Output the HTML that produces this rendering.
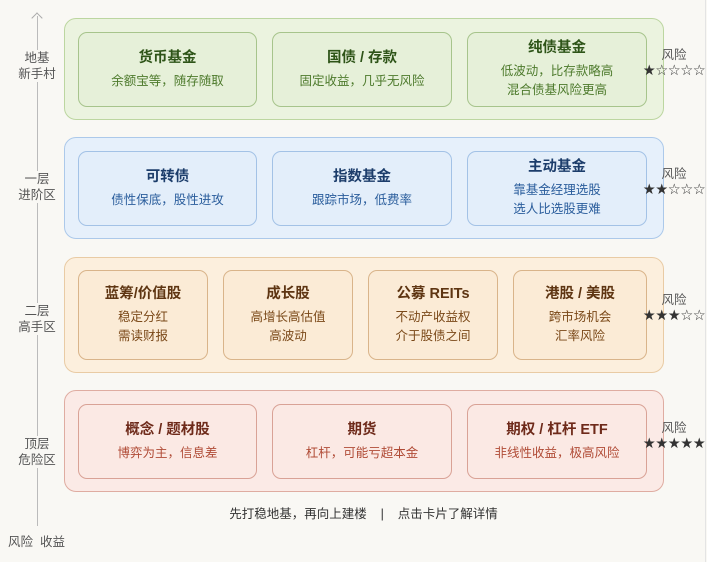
<!DOCTYPE html>
<html><head><meta charset="utf-8"><style>
*{margin:0;padding:0;box-sizing:border-box}
body{width:707px;height:562px;background:#f9f8f4;position:relative;overflow:hidden;font-family:"Liberation Sans","Noto Sans CJK SC",sans-serif}
.a{position:absolute}
.band{position:absolute;left:64px;width:600px;border:1px solid;border-radius:12px}
.card{position:absolute;border:1px solid;border-radius:9px;display:flex;flex-direction:column;align-items:center;justify-content:center;text-align:center}
.t{font-size:14.5px;font-weight:bold;line-height:18px;margin-bottom:5px}
.s{font-size:12.5px;line-height:19px}
.g .card{background:#e6f0d9;border-color:#a7c48c}.g .t{color:#2e5418}.g .s{color:#4d7a2c}
.b .card{background:#e3eefa;border-color:#a3c2e6}.b .t{color:#1c3d6b}.b .s{color:#2a5d9c}
.o .card{background:#fbebd6;border-color:#d9b48a}.o .t{color:#5e3512}.o .s{color:#7a4818}
.r .card{background:#fbe9e4;border-color:#d9a296}.r .t{color:#6e2a1a}.r .s{color:#b04b36}
.lab{position:absolute;left:14px;width:46px;text-align:center;font-size:12.5px;line-height:16px;color:#555;background:#f9f8f4}
.risk{position:absolute;left:637px;width:74px;text-align:center;font-size:12.5px;color:#555;line-height:16px}
.risk div{font-family:"DejaVu Sans",sans-serif;font-size:14.5px;line-height:16px;letter-spacing:-0.5px;color:#333;margin-top:0}
</style></head><body>
<div class="a" style="left:37px;top:16px;width:1px;height:510px;background:#bbb"></div>
<div class="a" style="left:33px;top:14px;width:8px;height:8px;border-left:1px solid #aaa;border-top:1px solid #aaa;transform:rotate(45deg)"></div>
<div class="a" style="left:705px;top:0;width:1px;height:562px;background:#e4e4e4"></div>
<div class="lab" style="top:50px">地基<br>新手村</div>
<div class="lab" style="top:171px">一层<br>进阶区</div>
<div class="lab" style="top:303px">二层<br>高手区</div>
<div class="lab" style="top:436px">顶层<br>危险区</div>
<div class="a" style="left:8px;top:531px;font-size:12.5px;color:#555">风险&nbsp;&nbsp;收益</div>

<div class="g"><div class="band" style="top:18px;height:102px;background:#ebf3df;border-color:#bcd6a0"></div>
<div class="card" style="left:78px;top:32px;width:179px;height:75px"><div class="t">货币基金</div><div class="s">余额宝等，随存随取</div></div>
<div class="card" style="left:272px;top:32px;width:180px;height:75px"><div class="t">国债 / 存款</div><div class="s">固定收益，几乎无风险</div></div>
<div class="card" style="left:467px;top:32px;width:180px;height:75px"><div class="t">纯债基金</div><div class="s">低波动，比存款略高<br>混合债基风险更高</div></div></div>
<div class="risk" style="top:47px">风险<div>★☆☆☆☆</div></div>

<div class="b"><div class="band" style="top:137px;height:102px;background:#e6f0fb;border-color:#acc9ea"></div>
<div class="card" style="left:78px;top:151px;width:179px;height:75px"><div class="t">可转债</div><div class="s">债性保底，股性进攻</div></div>
<div class="card" style="left:272px;top:151px;width:180px;height:75px"><div class="t">指数基金</div><div class="s">跟踪市场，低费率</div></div>
<div class="card" style="left:467px;top:151px;width:180px;height:75px"><div class="t">主动基金</div><div class="s">靠基金经理选股<br>选人比选股更难</div></div></div>
<div class="risk" style="top:166px">风险<div>★★☆☆☆</div></div>

<div class="o"><div class="band" style="top:257px;height:116px;background:#fcefdd;border-color:#e9cba4"></div>
<div class="card" style="left:78px;top:270px;width:130px;height:90px"><div class="t">蓝筹/价值股</div><div class="s">稳定分红<br>需读财报</div></div>
<div class="card" style="left:223px;top:270px;width:130px;height:90px"><div class="t">成长股</div><div class="s">高增长高估值<br>高波动</div></div>
<div class="card" style="left:368px;top:270px;width:130px;height:90px"><div class="t">公募 REITs</div><div class="s">不动产收益权<br>介于股债之间</div></div>
<div class="card" style="left:513px;top:270px;width:134px;height:90px"><div class="t">港股 / 美股</div><div class="s">跨市场机会<br>汇率风险</div></div></div>
<div class="risk" style="top:292px">风险<div>★★★☆☆</div></div>

<div class="r"><div class="band" style="top:390px;height:102px;background:#fbeae6;border-color:#dfaca1"></div>
<div class="card" style="left:78px;top:404px;width:179px;height:75px"><div class="t">概念 / 题材股</div><div class="s">博弈为主，信息差</div></div>
<div class="card" style="left:272px;top:404px;width:180px;height:75px"><div class="t">期货</div><div class="s">杠杆，可能亏超本金</div></div>
<div class="card" style="left:467px;top:404px;width:180px;height:75px"><div class="t">期权 / 杠杆 ETF</div><div class="s">非线性收益，极高风险</div></div></div>
<div class="risk" style="top:420px">风险<div>★★★★★</div></div>

<div class="a" style="left:0;width:727px;top:503px;text-align:center;font-size:12.5px;color:#333">先打稳地基，再向上建楼&nbsp;&nbsp;&nbsp;&nbsp;|&nbsp;&nbsp;&nbsp;&nbsp;点击卡片了解详情</div>
</body></html>
